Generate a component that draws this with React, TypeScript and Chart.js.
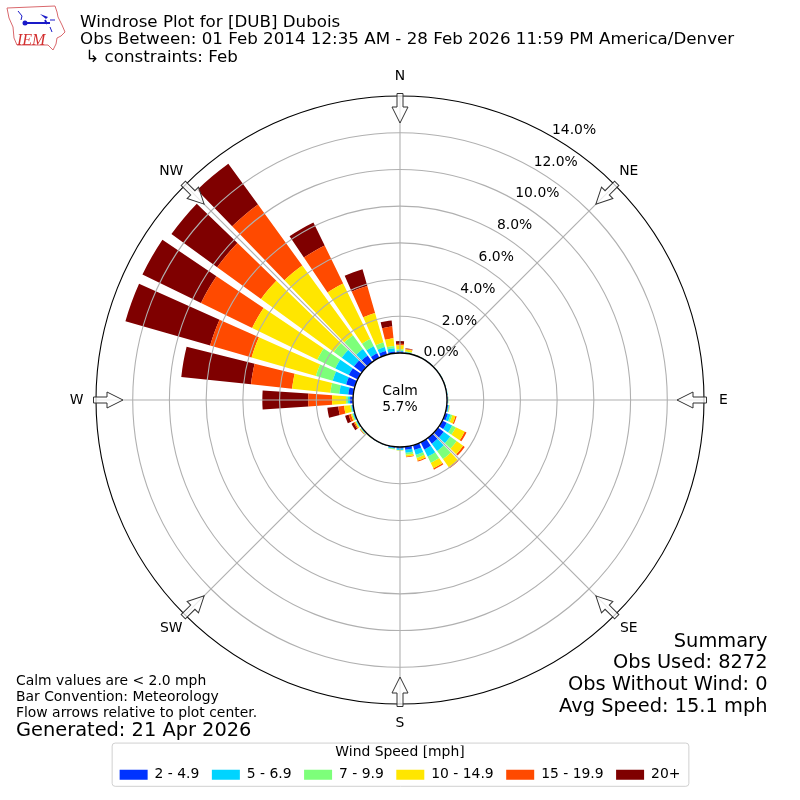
import React, { useEffect, useRef } from "react";
import { Chart, PolarAreaController, ArcElement, RadialLinearScale, Legend } from "chart.js";

const directions = [0,10,20,30,40,50,60,70,80,90,100,110,120,130,140,150,160,170,180,190,200,210,220,230,240,250,260,270,280,290,300,310,320,330,340,350];
const speedBins = ["2 - 4.9", "5 - 6.9", "7 - 9.9", "10 - 14.9", "15 - 19.9", "20+"];
const binColors = ["#0033ff", "#00d4ff", "#7dff7a", "#ffe600", "#ff4a00", "#7f0000"];

const bin2to5 = [.08,.03,.02,.02,.02,.02,.03,.03,.03,.04,.07,.15,.27,.38,.38,.44,.27,.16,.08,.06,.03,.02,.02,.03,.04,.06,.06,.16,.27,.49,.54,.54,.44,.27,.22,.1];
const bin5to7 = [.04,.02,.01,.01,.01,.01,.01,.01,.02,.02,.04,.15,.33,.44,.49,.43,.27,.17,.08,.04,.01,.01,.01,.03,.04,.04,.04,.11,.49,.76,.82,.82,.43,.43,.22,.17];
const bin7to10 = [.08,.05,.01,.01,.01,.01,.01,.01,.01,.02,.03,.1,.22,.43,.55,.38,.17,.11,.02,.03,.01,.01,.01,.03,.04,.05,.06,.11,.49,.95,1.09,.54,.93,.44,.26,.13];
const bin10to15 = [.22,.1,.01,0,0,0,0,0,0,0,.02,.18,.54,.44,.54,.33,.16,.1,.02,.02,0,0,.01,.03,.06,.07,.34,.76,2.1,3.65,3.95,4.9,4.7,3.36,1.67,.42];
const bin15to20 = [.08,.05,0,0,0,0,0,0,0,0,.01,.07,.11,.11,.08,.08,.06,.04,0,0,0,0,0,.02,.07,.13,.32,1.3,2.25,2.35,3.1,2.95,4.1,2.3,1.53,.65];
const bin20plus = [.15,.02,0,0,0,0,0,0,0,0,0,0,0,0,0,0,0,0,0,0,0,0,0,.01,.13,.2,.6,2.5,3.82,4.8,3.55,3.08,2.75,1.4,.95,.33];
const binValues = [bin2to5, bin5to7, bin7to10, bin10to15, bin15to20, bin20plus];

const radialTicks = [0, 2, 4, 6, 8, 10, 12, 14];
const compass = [["N",0],["NE",45],["E",90],["SE",135],["S",180],["SW",225],["W",270],["NW",315]] as [string, number][];
const calmText = ["Calm", "5.7%"];
const header = ["Windrose Plot for [DUB] Dubois", "Obs Between: 01 Feb 2014 12:35 AM - 28 Feb 2026 11:59 PM America/Denver", " \u21B3 constraints: Feb"];
const summary = ["Summary", "Obs Used: 8272", "Obs Without Wind: 0", "Avg Speed: 15.1 mph"];
const notes = ["Calm values are < 2.0 mph", "Bar Convention: Meteorology", "Flow arrows relative to plot center."];
const generated = "Generated: 21 Apr 2026";

const FONT = '"DejaVu Sans"';
const BAR_WIDTH_DEG = 8;

class WindroseController extends PolarAreaController {
  static id = "windrose";
  updateElements(arcs: any[], start: number, count: number, mode: any) {
    const meta: any = (this as any)._cachedMeta;
    const scale = meta.rScale;
    const chart: any = (this as any).chart;
    const half = (BAR_WIDTH_DEG / 2) * Math.PI / 180;
    for (let i = start; i < start + count; i++) {
      let below = 0;
      for (let d = 0; d < (this as any).index; d++) below += chart.data.datasets[d].data[i];
      const v = chart.data.datasets[(this as any).index].data[i];
      const mid = scale.getIndexAngle(i) - Math.PI / 2;
      (this as any).updateElement(arcs[i], i, {
        x: scale.xCenter,
        y: scale.yCenter,
        innerRadius: scale.getDistanceFromCenterForValue(below),
        outerRadius: scale.getDistanceFromCenterForValue(below + v),
        startAngle: mid - half,
        endAngle: mid + half,
        circumference: half * 2,
        options: (this as any).resolveDataElementOptions(i, arcs[i].active ? "active" : mode),
      }, mode);
    }
  }
}

Chart.register(PolarAreaController, WindroseController as any, ArcElement, RadialLinearScale, Legend);

function drawLogo(ctx: CanvasRenderingContext2D) {
  ctx.save();
  ctx.strokeStyle = "#d9686c";
  ctx.lineWidth = 1;
  ctx.beginPath();
  const outline = [[7,8],[55,6],[57,12],[58,17],[62,25],[65,32],[61,36],[57,38],[56,44],[53,50],[48,45],[17,45],[14,38],[13,27],[9,18]];
  outline.forEach(([x, y], i) => (i ? ctx.lineTo(x, y) : ctx.moveTo(x, y)));
  ctx.closePath();
  ctx.stroke();
  ctx.strokeStyle = "#1a1ac8";
  ctx.fillStyle = "#1a1ac8";
  ctx.lineWidth = 1.8;
  ctx.beginPath();
  ctx.moveTo(25, 23); ctx.lineTo(50, 23);
  ctx.moveTo(45, 20); ctx.lineTo(47, 24);
  ctx.stroke();
  ctx.lineWidth = 1;
  ctx.beginPath();
  ctx.moveTo(18, 11); ctx.lineTo(22, 16); ctx.lineTo(21, 20);
  ctx.moveTo(50, 20); ctx.lineTo(55, 20);
  ctx.moveTo(50, 27); ctx.lineTo(52, 32);
  ctx.stroke();
  ctx.beginPath(); ctx.arc(25, 23, 2.5, 0, Math.PI * 2); ctx.fill();
  ctx.beginPath(); ctx.moveTo(40, 14); ctx.lineTo(48, 17); ctx.lineTo(46, 19); ctx.closePath(); ctx.fill();
  ctx.fillStyle = "#d32f2f";
  ctx.font = 'italic 16px "Liberation Serif"';
  ctx.textAlign = "left";
  ctx.textBaseline = "alphabetic";
  ctx.fillText("IEM", 17, 44.5);
  ctx.restore();
}

const decorations = {
  id: "windroseDecor",
  beforeDraw(chart: any) {
    const { ctx, legend } = chart;
    const boxes = legend.legendHitBoxes;
    const left = Math.min(...boxes.map((b: any) => b.left)) - 7;
    const last = boxes[boxes.length - 1];
    const right = last.left + last.width + 8;
    ctx.save();
    ctx.strokeStyle = "#d0d0d0";
    ctx.lineWidth = 1;
    ctx.beginPath();
    ctx.roundRect(left - 0.5, legend.top - 2.5, right - left + 1, legend.bottom - legend.top - 3, 3);
    ctx.stroke();
    ctx.restore();
  },
  afterDatasetsDraw(chart: any) {
    const { ctx } = chart;
    const scale = chart.scales.r;
    ctx.save();
    ctx.strokeStyle = "#b0b0b0";
    ctx.lineWidth = 1.1;
    compass.forEach(([, deg]) => {
      const p = scale.getPointPosition(deg / 10, scale.drawingArea);
      ctx.beginPath();
      ctx.moveTo(scale.xCenter, scale.yCenter);
      ctx.lineTo(p.x, p.y);
      ctx.stroke();
    });
    ctx.restore();
  },
  afterDraw(chart: any) {
    const { ctx } = chart;
    const scale = chart.scales.r;
    const cx = scale.xCenter, cy = scale.yCenter;
    ctx.save();
    ctx.fillStyle = "#fff";
    ctx.strokeStyle = "#000";
    ctx.lineWidth = 1.3;
    ctx.beginPath();
    ctx.arc(cx, cy, scale.getDistanceFromCenterForValue(0), 0, Math.PI * 2);
    ctx.fill();
    ctx.stroke();

    ctx.fillStyle = "#000";
    ctx.font = `13.9px ${FONT}`;
    ctx.textAlign = "center";
    ctx.textBaseline = "middle";
    ctx.fillText(calmText[0], cx, cy - 9);
    ctx.fillText(calmText[1], cx, cy + 7.5);

    // flow arrows
    compass.forEach(([, deg]) => {
      const a = scale.getIndexAngle(deg / 10) - Math.PI / 2;
      ctx.save();
      ctx.translate(cx, cy);
      ctx.rotate(a);
      ctx.beginPath();
      ctx.moveTo(277, 0);
      ctx.lineTo(293, -8);
      ctx.lineTo(293, -3);
      ctx.lineTo(306.5, -3);
      ctx.lineTo(306.5, 3);
      ctx.lineTo(293, 3);
      ctx.lineTo(293, 8);
      ctx.closePath();
      ctx.fillStyle = "rgba(255,255,255,0.75)";
      ctx.fill();
      ctx.strokeStyle = "#333";
      ctx.lineWidth = 1;
      ctx.stroke();
      ctx.restore();
    });

    // compass labels
    ctx.fillStyle = "#000";
    ctx.textAlign = "center";
    ctx.textBaseline = "middle";
    compass.forEach(([name, deg]) => {
      const p = scale.getPointPosition(deg / 10, scale.drawingArea + 19.5);
      ctx.fillText(name, p.x, p.y);
    });

    // radial tick labels
    ctx.textAlign = "left";
    ctx.textBaseline = "alphabetic";
    radialTicks.forEach((v) => {
      const p = scale.getPointPosition(3, scale.getDistanceFromCenterForValue(v));
      ctx.fillText(`${v.toFixed(1)}%`, p.x, p.y - 3);
    });

    // header
    ctx.font = `16.7px ${FONT}`;
    header.forEach((t, i) => ctx.fillText(t, 80, 27 + i * 17.3));

    // summary
    ctx.font = `19.4px ${FONT}`;
    ctx.textAlign = "right";
    summary.forEach((t, i) => ctx.fillText(t, 767.5, 646.5 + i * 21.7));

    // notes
    ctx.textAlign = "left";
    ctx.font = `13.9px ${FONT}`;
    notes.forEach((t, i) => ctx.fillText(t, 16, 685 + i * 16));
    ctx.font = `19.4px ${FONT}`;
    ctx.fillText(generated, 16, 736);

    drawLogo(ctx);
    ctx.restore();
  },
};

export default function App() {
  const ref = useRef<HTMLCanvasElement>(null);
  useEffect(() => {
    const chart = new Chart(ref.current!, {
      type: "windrose" as any,
      data: {
        labels: directions.map(String),
        datasets: speedBins.map((label, i) => ({
          label,
          data: binValues[i],
          backgroundColor: binColors[i],
          borderWidth: 0,
        })),
      },
      options: {
        responsive: false,
        animation: false,
        devicePixelRatio: 1,
        events: [],
        layout: { padding: { top: 56, left: 96, right: 96, bottom: 8.2 } },
        scales: {
          r: {
            min: -2.56,
            max: 14,
            startAngle: 0,
            afterBuildTicks: (s: any) => { s.ticks = radialTicks.map((value) => ({ value })); },
            ticks: { display: false },
            pointLabels: { display: false },
            angleLines: { display: false },
            grid: {
              circular: true,
              z: 1,
              lineWidth: 1.1,
              color: (c: any) => (c.tick && c.tick.value === 14 ? "#000" : "#b0b0b0"),
            },
          },
        },
        plugins: {
          tooltip: { enabled: false },
          legend: {
            display: true,
            position: "bottom",
            onClick: () => {},
            title: { display: true, text: "Wind Speed [mph]", color: "#000", font: { family: FONT, size: 13.9 }, padding: { top: 0, bottom: -6.85 } },
            labels: {
              boxWidth: 28,
              boxHeight: 10,
              padding: 12.5,
              color: "#000",
              font: { family: FONT, size: 13.9 },
              generateLabels: (c: any) => c.data.datasets.map((d: any, i: number) => ({
                text: d.label, fillStyle: d.backgroundColor, strokeStyle: d.backgroundColor, lineWidth: 0, datasetIndex: i,
              })),
            },
          },
        },
      } as any,
      plugins: [decorations],
    } as any);
    return () => chart.destroy();
  }, []);
  return (
    <div style={{ position: "absolute", left: 0, top: 0, width: 800, height: 800 }}>
      <canvas ref={ref} width={800} height={800} style={{ display: "block" }} />
    </div>
  );
}
